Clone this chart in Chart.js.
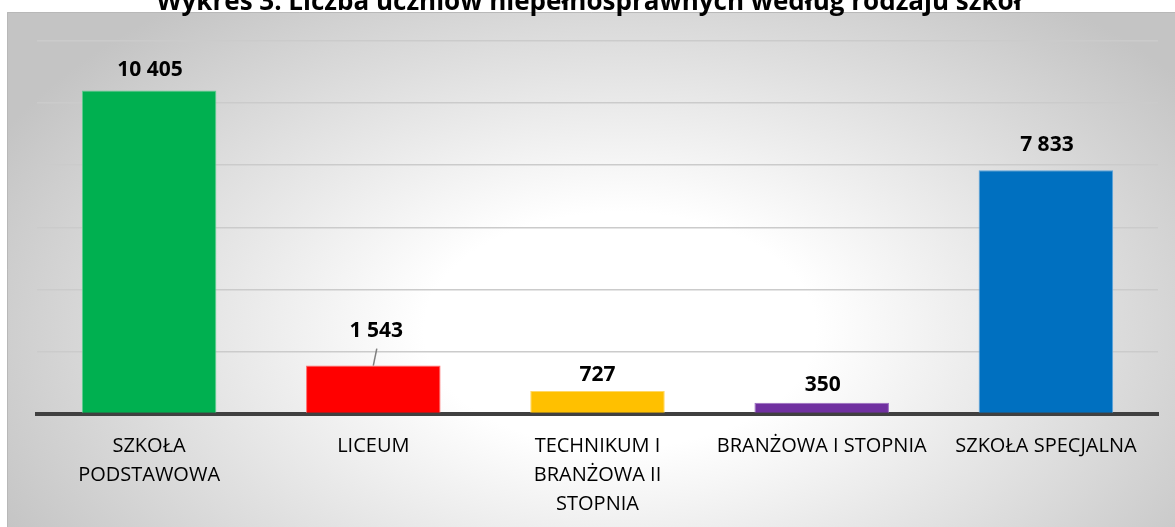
<!DOCTYPE html>
<html>
<head>
<meta charset="utf-8">
<script src="https://cdn.jsdelivr.net/npm/chart.js@4.4.1/dist/chart.umd.min.js"></script>
<style>
  html, body { margin: 0; padding: 0; background: #fff; }
  #wrap { width: 1175px; height: 527px; position: relative; }
</style>
</head>
<body>
<div id="wrap"><canvas id="barChart"></canvas></div>
<script>
// data ------------------------------------------------------------
const titleText = 'Wykres 3. Liczba uczniów niepełnosprawnych według rodzaju szkół';
const categories = [
  ['SZKOŁA', 'PODSTAWOWA'],
  ['LICEUM'],
  ['TECHNIKUM I', 'BRANŻOWA II', 'STOPNIA'],
  ['BRANŻOWA I STOPNIA'],
  ['SZKOŁA SPECJALNA']
];
const students = [10405, 1543, 727, 350, 7833];
const yMax = 12000;
const yStep = 2000;

// styles
const barColors = ['#00B050', '#FF0000', '#FFC000', '#7030A0', '#0070C0'];
const barEdges = ['#5fd08f', '#ff6b6b', '#ffd866', '#9a6cc0', '#5aa3dc'];
// distance from bar top to label centre (labels were moved by hand in the original)
const labelGap = [20, 35, 16, 18, 25];
const labelShiftX = [1, 3, 0, 1, 1];

function fmt(v) {
  return String(v).replace(/\B(?=(\d{3})+(?!\d))/g, ' ');
}

// background + title
const backdrop = {
  id: 'backdrop',
  beforeDraw(chart) {
    const ctx = chart.ctx;
    const w = chart.width, h = chart.height;
    ctx.save();
    ctx.fillStyle = '#fff';
    ctx.fillRect(0, 0, w, h);

    // grey panel with radial gradient
    const px = 7, py = 12;
    const cx = 620, cy = 330;
    const rx = 700, ry = 420;
    ctx.save();
    ctx.beginPath();
    ctx.rect(px, py, w - px, h - py);
    ctx.clip();
    ctx.translate(cx, cy);
    ctx.scale(1, ry / rx);
    const g = ctx.createRadialGradient(0, 0, 0, 0, 0, rx);
    g.addColorStop(0, '#ffffff');
    g.addColorStop(0.28, '#ffffff');
    g.addColorStop(1, '#c4c4c4');
    ctx.fillStyle = g;
    ctx.fillRect(-cx - 10, -cy * rx / ry - 10, w + 20, h * rx / ry + 40);
    ctx.restore();

    ctx.strokeStyle = '#b8b8b8';
    ctx.lineWidth = 1;
    ctx.beginPath();
    ctx.moveTo(px + 0.5, h);
    ctx.lineTo(px + 0.5, py + 0.5);
    ctx.lineTo(w, py + 0.5);
    ctx.stroke();

    // title, top half cut off like in the original
    ctx.fillStyle = '#000';
    ctx.font = 'bold 26px "Open Sans"';
    ctx.textAlign = 'center';
    ctx.textBaseline = 'alphabetic';
    ctx.fillText(titleText, 589, 10);
    ctx.restore();
  }
};

// value labels above bars
const valueLabels = {
  id: 'valueLabels',
  afterDatasetsDraw(chart) {
    const ctx = chart.ctx;
    const meta = chart.getDatasetMeta(0);
    ctx.save();
    ctx.font = 'bold 21px "Open Sans"';
    ctx.fillStyle = '#000';
    ctx.textAlign = 'center';
    ctx.textBaseline = 'middle';
    meta.data.forEach((bar, i) => {
      const x = bar.x + labelShiftX[i];
      const y = bar.y - labelGap[i];
      ctx.fillText(fmt(students[i]), x, y);
      if (labelGap[i] > 30) {
        // leader line
        ctx.strokeStyle = '#7f7f7f';
        ctx.lineWidth = 1.5;
        ctx.beginPath();
        ctx.moveTo(x + 0.5, y + 18);
        ctx.lineTo(bar.x, bar.y);
        ctx.stroke();
      }
    });
    ctx.restore();
  }
};

const data = {
  labels: categories,
  datasets: [{
    label: 'Liczba uczniów',
    data: students,
    backgroundColor: barColors,
    borderColor: barEdges,
    borderWidth: 1,
    borderSkipped: 'bottom',
    barPercentage: 0.6,
    categoryPercentage: 1
  }]
};

const config = {
  type: 'bar',
  data,
  options: {
    responsive: true,
    maintainAspectRatio: false,
    animation: false,
    layout: { padding: { left: 37, right: 17, top: 41, bottom: 0 } },
    plugins: {
      legend: { display: false },
      title: { display: false },
      tooltip: { enabled: false }
    },
    scales: {
      x: {
        z: 1,
        grid: { display: false, drawTicks: false },
        border: { display: true, color: '#404040', width: 4 },
        ticks: {
          color: '#000',
          padding: 18,
          maxRotation: 0,
          autoSkip: false,
          font: { family: '"Open Sans"', size: 20, lineHeight: 1.45 }
        },
        afterFit(scale) { scale.height = 113.5; }
      },
      y: {
        min: 0,
        max: yMax,
        ticks: { display: false, stepSize: yStep },
        grid: { color: '#cbcbcb', lineWidth: 1.5, drawTicks: false },
        border: { display: false },
        afterFit(scale) { scale.width = 0; }
      }
    }
  },
  plugins: [backdrop, valueLabels]
};

const barChart = new Chart(document.getElementById('barChart'), config);
</script>
</body>
</html>
